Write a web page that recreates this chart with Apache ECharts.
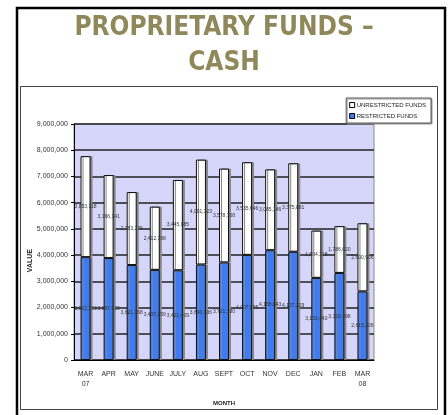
<!DOCTYPE html>
<html>
<head>
<meta charset="utf-8">
<script src="https://cdn.jsdelivr.net/npm/echarts@6/dist/echarts.min.js"></script>
<style>
html, body { margin: 0; padding: 0; background: #fff; }
#box { width: 448px; height: 415px; }
</style>
</head>
<body>
<div id="box"></div>
<script>
// months along the bottom
var months = ['MAR\n07', 'APR', 'MAY', 'JUNE', 'JULY', 'AUG', 'SEPT', 'OCT', 'NOV', 'DEC', 'JAN', 'FEB', 'MAR\n08'];
// restricted (blue, bottom) and unrestricted (white, top)
var restricted = [3922153, 3887620, 3621368, 3437159, 3421409, 3640636, 3721180, 4007685, 4185843, 4127229, 3131440, 3320398, 2615306];
var unrestricted = [3853118, 3166141, 2783276, 2412798, 3445085, 4001323, 3578708, 3535646, 3085146, 3375881, 1804318, 1786020, 2600906];

var myChart = echarts.init(document.getElementById('box'));

function fmt(v) {
    return v.toLocaleString('en-US');
}

var option = {
    animation: false,
    title: {
        text: 'PROPRIETARY FUNDS –\nCASH',
        left: 'center',
        top: 6,
        textStyle: {
            color: '#8f885a',
            fontFamily: '"Liberation Sans Narrow", "DejaVu Sans Condensed", sans-serif',
            fontWeight: 'bold',
            fontSize: 26,
            lineHeight: 35
        }
    },
    //外框
    graphic: [
        { type: 'rect', shape: { x: 17, y: 8, width: 428, height: 412 }, style: { fill: 'none', stroke: '#000', lineWidth: 2.5 }, silent: true },
        { type: 'rect', shape: { x: 20.5, y: 86.5, width: 417, height: 323 }, style: { fill: 'none', stroke: '#444', lineWidth: 1 }, silent: true },
        { type: 'text', left: 27, top: 249, rotation: Math.PI / 2, style: { text: 'VALUE', fill: '#222', font: 'bold 7px "Liberation Sans", sans-serif' }, silent: true }
    ],
    legend: {
        right: 17,
        top: 98,
        orient: 'vertical',
        icon: 'rect',
        itemWidth: 5,
        itemHeight: 5,
        itemGap: 5,
        padding: [4, 5, 4, 3],
        borderColor: '#555',
        borderWidth: 1,
        shadowColor: '#999',
        shadowOffsetX: 1,
        shadowOffsetY: 1,
        backgroundColor: '#fff',
        textStyle: { fontSize: 6, color: '#222', fontFamily: '"Liberation Sans", sans-serif', padding: [0, 0, 0, -3] },
        data: [
            { name: 'UNRESTRICTED FUNDS', itemStyle: { color: '#fff', borderColor: '#000', borderWidth: 1 } },
            { name: 'RESTRICTED FUNDS', itemStyle: { color: '#3d7cf3', borderColor: '#000', borderWidth: 1 } }
        ]
    },
    grid: {
        left: 74,
        right: 74,
        top: 124,
        bottom: 55,
        show: true,
        backgroundColor: '#d6d6fb',
        borderColor: '#888',
        borderWidth: 1
    },
    xAxis: {
        type: 'category',
        data: months,
        name: 'MONTH',
        nameLocation: 'middle',
        nameGap: 40,
        nameTextStyle: { fontSize: 6, fontWeight: 'bold', color: '#222', fontFamily: '"Liberation Sans", sans-serif' },
        axisLine: { lineStyle: { color: '#000' } },
        axisTick: { length: 3, lineStyle: { color: '#000' } },
        axisLabel: { interval: 0, fontSize: 7, color: '#333', lineHeight: 10, margin: 9, fontFamily: '"Liberation Sans", sans-serif' }
    },
    yAxis: {
        type: 'value',
        min: 0,
        max: 9000000,
        interval: 1000000,
        axisLine: { show: true, lineStyle: { color: '#000' } },
        axisTick: { show: true, length: 3, lineStyle: { color: '#000' } },
        axisLabel: {
            fontSize: 7,
            color: '#333',
            margin: 6,
            fontFamily: '"Liberation Sans", sans-serif',
            formatter: function (v) { return fmt(v); }
        },
        splitLine: { lineStyle: { color: '#222', width: 1.5 } }
    },
    series: [
        {
            name: 'RESTRICTED FUNDS',
            type: 'bar',
            stack: 'cash',
            barWidth: 10,
            data: restricted,
            itemStyle: {
                color: '#3d7cf3',
                borderColor: '#111',
                borderWidth: 1,
                shadowColor: '#888',
                shadowOffsetX: 2
            },
            label: {
                show: true,
                position: 'inside',
                fontSize: 5,
                color: '#333',
                formatter: function (p) { return fmt(p.value); }
            }
        },
        {
            name: 'UNRESTRICTED FUNDS',
            type: 'bar',
            stack: 'cash',
            barWidth: 10,
            data: unrestricted,
            itemStyle: {
                color: '#fff',
                borderColor: '#111',
                borderWidth: 1,
                shadowColor: '#888',
                shadowOffsetX: 2
            },
            label: {
                show: true,
                position: 'inside',
                fontSize: 5,
                color: '#333',
                formatter: function (p) { return fmt(p.value); }
            }
        }
    ]
};

myChart.setOption(option);
</script>
</body>
</html>
